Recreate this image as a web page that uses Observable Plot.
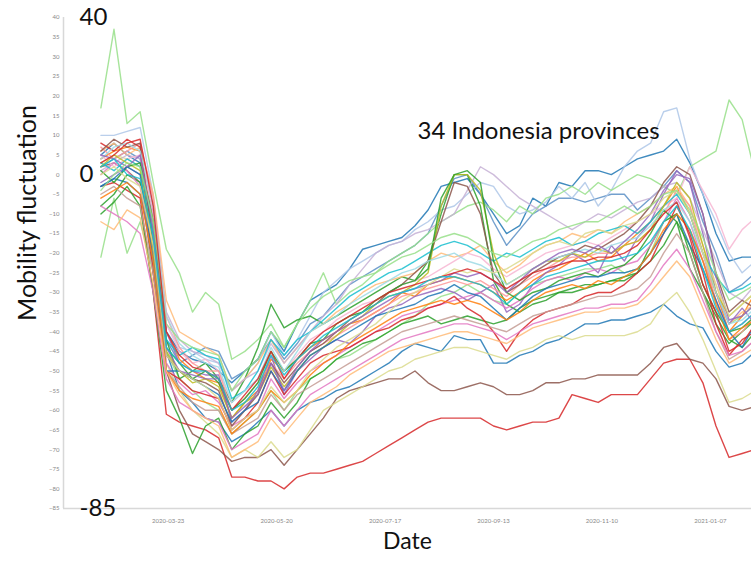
<!DOCTYPE html>
<html><head><meta charset="utf-8">
<script src="https://cdn.jsdelivr.net/npm/d3@7"></script>
<script src="https://cdn.jsdelivr.net/npm/@observablehq/plot@0.6"></script>
<style>body{margin:0;background:#fff;} #chart{width:751px;height:563px;}</style>
</head><body><div id="chart"></div>
<script>
const weeks = ["2020-02-16","2020-02-23","2020-03-01","2020-03-08","2020-03-15","2020-03-22","2020-03-29","2020-04-05","2020-04-12","2020-04-19",
"2020-04-26","2020-05-03","2020-05-10","2020-05-17","2020-05-24","2020-05-31","2020-06-07","2020-06-14","2020-06-21","2020-06-28",
"2020-07-05","2020-07-12","2020-07-19","2020-07-26","2020-08-02","2020-08-09","2020-08-16","2020-08-23","2020-08-30","2020-09-06",
"2020-09-13","2020-09-20","2020-09-27","2020-10-04","2020-10-11","2020-10-18","2020-10-25","2020-11-01","2020-11-08","2020-11-15",
"2020-11-22","2020-11-29","2020-12-06","2020-12-13","2020-12-20","2020-12-27","2021-01-03","2021-01-10","2021-01-17","2021-01-24",
"2021-01-31"];
const xTickLabels = ["2020-03-23","2020-05-20","2020-07-17","2020-09-13","2020-11-10","2021-01-07"];
const yTickLabels = [40,35,30,25,20,15,10,5,0,-5,-10,-15,-20,-25,-30,-35,-40,-45,-50,-55,-60,-65,-70,-75,-80,-85];
const bigYLabels = [40,0,-85];
const xDomain = ["2020-01-27","2021-01-29"];
const yDomain = [-85,40];
const chartTitle = "34 Indonesia provinces";
const xTitle = "Date";
const yTitle = "Mobility fluctuation";

const p01 = [-3,-2,-4,-6,-30,-61,-63,-64,-65,-67, -77,-77,-78,-78,-80,-77,-76,-76,-75,-74, -73,-71,-69,-67,-65,-63,-62,-62,-62,-62, -64,-65,-64,-63,-63,-62,-56,-57,-58,-56, -56,-56,-52,-48,-47,-47,-53,-64,-72,-71, -70];
const p02 = [2,3,1,-2,-25,-50,-60,-66,-68,-70, -73,-72,-72,-70,-74,-70,-66,-62,-57,-55, -54,-53,-52,-52,-50,-53,-55,-55,-54,-53, -54,-56,-56,-55,-53,-53,-52,-52,-51,-51, -51,-51,-48,-44,-43,-47,-48,-52,-59,-60, -59];
const p03 = [-3,-1,-2,-5,-20,-45,-55,-58,-62,-63, -68,-66,-63,-60,-64,-60,-58,-57,-55,-54, -52,-50,-48,-45,-43,-44,-45,-41,-42,-42, -48,-48,-46,-45,-43,-42,-40,-38,-38,-37, -37,-36,-35,-33,-36,-38,-39,-45,-49,-48, -45];
const p04 = [5,8,5,3,-10,-40,-45,-47,-48,-50, -53,-50,-47,-40,-45,-38,-32,-30,-28,-24, -19,-18,-17,-16,-13,-9,-3,-2,-1,-5, -10,-15,-13,-6,-8,-2,-3,1,1,0, 2,4,5,6,9,3,-5,-15,-22,-21, -21];
const p05 = [2,4,6,4,-15,-42,-48,-46,-44,-45, -52,-50,-47,-42,-47,-43,-38,-36,-32,-28, -26,-24,-22,-20,-18,-15,-8,-1,0,-5, -12,-18,-14,-10,-8,-6,-6,-7,-6,-5, -5,-9,-6,-3,1,-2,-12,-20,-30,-28, -25];
const p06 = [10,10,11,12,-5,-38,-44,-45,-47,-48, -55,-52,-48,-40,-46,-42,-36,-30,-27,-24, -22,-20,-18,-17,-14,-12,-9,-8,-5,-2, -3,-8,-10,-9,-7,-3,-6,-2,-8,-4, 2,6,8,16,17,4,-5,-12,-20,-25, -22];
const p07 = [17,37,13,16,-2,-19,-25,-35,-30,-33, -47,-45,-42,-38,-44,-38,-32,-25,-33,-30, -28,-25,-22,-20,-18,-15,-12,-10,-8,-7, -9,-12,-8,-10,-6,-5,-3,-5,-2,-4, -2,0,-1,-3,-5,2,4,6,19,14, 0];
const p08 = [-21,-6,-20,-12,-25,-45,-52,-55,-58,-60, -66,-63,-60,-55,-60,-55,-52,-50,-47,-46, -44,-42,-40,-38,-36,-33,-31,-30,-28,-30, -32,-33,-30,-28,-27,-26,-25,-24,-24,-23, -25,-24,-20,-12,-10,-14,-22,-30,-38,-36, -33];
const p09 = [3,5,4,2,-18,-48,-55,-60,-63,-66, -72,-70,-72,-68,-72,-70,-65,-60,-58,-56, -54,-52,-50,-49,-47,-46,-45,-44,-44,-45, -46,-47,-45,-44,-42,-41,-42,-41,-41,-41, -41,-40,-38,-33,-30,-35,-42,-50,-58,-57, -55];
const p10 = [-8,-5,0,-2,-15,-42,-52,-50,-48,-52, -58,-52,-44,-33,-39,-37,-36,-38,-36,-34, -32,-30,-28,-26,-27,-22,-10,0,0,-8, -27,-33,-35,-33,-32,-30,-29,-28,-28,-27, -27,-25,-18,-12,-10,-20,-30,-38,-43,-40, -37];
const p11 = [-10,-7,-3,-8,-30,-55,-62,-71,-64,-62, -70,-66,-64,-58,-62,-58,-52,-50,-47,-45, -43,-42,-40,-38,-37,-36,-38,-37,-36,-37, -38,-37,-34,-32,-31,-30,-30,-29,-28,-27, -26,-25,-22,-18,-12,-24,-30,-36,-42,-44, -40];
const p12 = [4,6,7,6,-12,-40,-47,-50,-52,-53, -62,-58,-55,-47,-50,-47,-44,-42,-40,-38, -37,-35,-33,-30,-31,-28,-27,-26,-27,-28, -30,-32,-30,-27,-25,-24,-22,-20,-22,-21, -18,-15,-12,-8,-3,-10,-20,-30,-40,-36, -30];
const p13 = [6,8,5,7,-5,-32,-40,-42,-44,-46, -55,-52,-48,-42,-48,-44,-40,-38,-35,-33, -30,-28,-27,-26,-25,-22,-20,-21,-20,-18, -22,-25,-23,-20,-18,-17,-15,-16,-14,-15, -12,-10,-8,-5,-3,-8,-18,-28,-38,-35, -33];
const p14 = [-2,0,2,0,-10,-40,-48,-50,-51,-51, -63,-60,-55,-46,-56,-50,-47,-44,-42,-43, -40,-36,-34,-33,-31,-30,-29,-30,-32,-30, -28,-35,-33,-28,-25,-23,-20,-22,-25,-18, -22,-16,-12,-5,1,-2,-15,-30,-38,-34, -38];
const p15 = [1,3,5,4,-8,-35,-42,-45,-46,-48, -55,-52,-50,-43,-48,-44,-40,-36,-33,-28, -24,-20,-18,-17,-15,-14,-12,-10,-4,2, 0,-3,-6,-8,-10,-12,-14,-12,-10,-11, -9,-7,-6,-3,-2,-6,-14,-22,-30,-32, -28];
const p16 = [0,3,1,-3,-20,-48,-53,-56,-55,-58, -64,-62,-60,-52,-57,-53,-50,-48,-46,-44, -42,-40,-38,-36,-35,-34,-33,-32,-31,-30, -32,-34,-32,-29,-27,-26,-27,-25,-24,-25, -23,-22,-18,-12,-6,-12,-22,-32,-40,-38, -35];
const p17 = [5,2,4,5,-10,-38,-45,-48,-47,-50, -58,-55,-52,-46,-50,-46,-42,-40,-37,-35, -33,-32,-30,-28,-27,-26,-24,-22,-20,-21, -24,-26,-24,-22,-20,-19,-18,-17,-18,-16, -14,-12,-10,-8,-6,2,-4,-10,-19,-14, -11];
const p18 = [7,4,6,8,-6,-36,-44,-48,-50,-50, -60,-57,-53,-48,-52,-48,-45,-43,-41,-39, -37,-35,-33,-31,-30,-29,-28,-27,-28,-27, -29,-31,-28,-26,-24,-22,-21,-21,-20,-20, -18,-17,-14,-10,-4,-8,-20,-32,-42,-40, -36];
const p19 = [8,6,9,7,-25,-50,-52,-55,-56,-57, -65,-62,-58,-50,-56,-52,-48,-46,-45,-44, -42,-40,-39,-37,-36,-34,-33,-31,-34,-36, -40,-45,-40,-37,-35,-34,-33,-31,-30,-30, -28,-25,-22,-15,-8,-15,-25,-38,-46,-42, -40];
const p20 = [3,1,4,2,-15,-42,-46,-44,-46,-47, -57,-55,-50,-42,-46,-42,-40,-37,-34,-31, -29,-27,-25,-24,-22,-20,-18,-17,-18,-20, -22,-20,-21,-19,-17,-16,-18,-17,-15,-14, -13,-15,-12,-8,-5,-10,-20,-26,-30,-29, -27];
const p21 = [2,5,3,1,-20,-45,-50,-53,-52,-54, -62,-58,-56,-49,-54,-50,-46,-44,-41,-38, -36,-33,-31,-30,-28,-25,-8,0,0,-4, -20,-28,-26,-24,-22,-22,-20,-21,-19,-20, -18,-17,-14,-8,-2,-6,-18,-30,-36,-33, -30];
const p22 = [-5,-3,-6,-8,-25,-50,-54,-58,-60,-60, -66,-64,-62,-56,-60,-56,-54,-52,-50,-48, -46,-44,-42,-40,-39,-38,-37,-36,-37,-38, -39,-40,-38,-36,-35,-34,-33,-32,-31,-31, -30,-29,-26,-20,-15,-20,-30,-40,-47,-45, -42];
const p23 = [6,9,7,8,-18,-46,-50,-52,-53,-55, -64,-60,-56,-48,-53,-49,-45,-43,-40,-37, -35,-33,-30,-28,-25,-22,-12,-2,-3,-10, -25,-30,-28,-25,-23,-21,-20,-18,-19,-17, -15,-12,-8,-2,2,0,-10,-25,-35,-32, -34];
const p24 = [1,-2,2,3,-12,-44,-48,-52,-50,-53, -60,-57,-53,-45,-50,-47,-43,-42,-38,-36, -35,-32,-30,-28,-27,-24,-6,0,1,-2, -22,-30,-32,-30,-29,-27,-26,-25,-26,-24, -23,-20,-15,-9,-12,-18,-28,-35,-40,-39, -36];
const p25 = [-3,-1,2,0,-22,-50,-50,-52,-54,-56, -63,-60,-58,-50,-55,-50,-46,-44,-42,-40, -38,-36,-35,-34,-33,-31,-30,-28,-30,-31, -34,-37,-34,-31,-29,-28,-27,-26,-26,-25, -25,-24,-20,-15,-10,-18,-24,-32,-40,-44, -38];
const p26 = [4,7,8,6,-8,-36,-43,-46,-48,-49, -58,-55,-52,-44,-50,-45,-40,-38,-36,-33, -31,-29,-27,-25,-24,-22,-21,-20,-22,-23, -25,-28,-26,-24,-22,-21,-20,-19,-20,-18, -17,-16,-13,-9,-7,-12,-20,-30,-38,-37, -34];
const p27 = [5,4,2,5,-14,-44,-50,-51,-52,-52, -62,-59,-56,-48,-55,-49,-45,-42,-40,-38, -36,-34,-32,-30,-29,-28,-27,-25,-26,-25, -27,-30,-27,-24,-22,-20,-19,-20,-18,-20, -17,-14,-10,-4,0,-1,-10,-26,-37,-36, -33];
const p28 = [-6,-4,-2,-5,-22,-50,-55,-57,-58,-59, -66,-63,-60,-55,-58,-55,-51,-48,-46,-43, -41,-39,-37,-35,-34,-33,-32,-33,-32,-33, -35,-37,-35,-32,-30,-29,-28,-29,-27,-28, -26,-24,-20,-14,-10,-14,-22,-33,-42,-39, -37];
const p29 = [0,2,-1,-3,-18,-46,-50,-52,-54,-57, -65,-62,-60,-54,-58,-55,-50,-47,-44,-42, -40,-38,-35,-32,-30,-28,-26,-24,-25,-24, -25,-24,-22,-20,-18,-17,-18,-15,-14,-15, -13,-12,-10,-6,-4,-10,-20,-28,-36,-33, -30];
const p30 = [-4,0,3,2,-12,-38,-42,-44,-45,-46, -55,-50,-47,-40,-44,-38,-34,-31,-29,-27, -26,-25,-23,-21,-20,-18,-16,-15,-16,-18, -20,-21,-19,-17,-16,-14,-13,-12,-12,-10, -8,-10,-8,-5,-4,-9,-16,-25,-32,-30, -28];
const p31 = [3,5,8,9,-8,-40,-46,-49,-50,-52, -60,-56,-52,-45,-52,-47,-43,-40,-38,-36, -34,-32,-30,-29,-28,-27,-26,-25,-24,-25, -27,-29,-27,-25,-24,-23,-22,-22,-21,-21, -20,-18,-14,-10,-7,-16,-28,-35,-45,-43, -38];
const p32 = [-8,-10,-12,-15,-30,-52,-58,-60,-62,-63, -70,-68,-66,-60,-64,-60,-56,-54,-52,-50, -48,-46,-44,-42,-41,-40,-39,-38,-38,-39, -40,-42,-40,-38,-37,-36,-35,-34,-34,-33, -33,-32,-28,-23,-19,-24,-32,-40,-46,-45, -42];
const p33 = [-12,-14,-9,-11,-28,-50,-56,-60,-62,-64, -72,-70,-68,-62,-66,-62,-58,-56,-54,-51, -49,-47,-45,-44,-43,-42,-41,-40,-40,-41, -42,-43,-41,-39,-38,-37,-36,-35,-35,-34, -34,-33,-30,-26,-22,-26,-34,-42,-48,-46, -44];
const p34 = [2,4,0,-1,-16,-44,-48,-50,-50,-52, -60,-58,-54,-46,-51,-47,-44,-41,-39,-37, -35,-33,-31,-30,-29,-27,-26,-26,-27,-28, -30,-33,-30,-28,-26,-25,-24,-23,-22,-22, -21,-20,-17,-12,-8,-14,-24,-34,-40,-38, -35];

const provinceSeries = [p01,p02,p03,p04,p05,p06,p07,p08,p09,p10,p11,p12,p13,p14,p15,p16,p17,p18,p19,p20,p21,p22,p23,p24,p25,p26,p27,p28,p29,p30,p31,p32,p33,p34];
const seriesColors = ["#d62728","#8c564b","#1f77b4","#1f77b4","#5a8fc6","#aec7e8","#98df8a","#98df8a","#dbdb8d","#2ca02c","#2ca02c","#ff7f0e","#ffbb78","#9467bd","#c5b0d5","#e377c2","#f7b6d2","#ff9896","#d62728","#17becf","#bcbd22","#c49c94","#8c564b","#2ca02c","#1f77b4","#9edae5","#9467bd","#ff7f0e","#dbdb8d","#98df8a","#d62728","#e377c2","#ffbb78","#17becf"];

const parse = d3.utcParse("%Y-%m-%d");
const rows = [];
provinceSeries.forEach((vals, k) => {
  vals.forEach((v, i) => rows.push({province: "P" + (k + 1), color: seriesColors[k], date: parse(weeks[i]), value: v}));
});
const xd = xDomain.map(parse);

const chart = Plot.plot({
  width: 751, height: 563,
  marginLeft: 63, marginRight: 0, marginTop: 17, marginBottom: 55,
  style: {fontFamily: "Lato, 'Liberation Sans', sans-serif", background: "#fff"},
  x: {type: "utc", domain: xd, label: null},
  y: {domain: yDomain, label: null},
  color: {type: "identity"},
  marks: [
    Plot.ruleX([xd[0]], {stroke: "#d8d8d8", strokeWidth: 1.5}),
    Plot.ruleY([yDomain[0]], {stroke: "#d8d8d8", strokeWidth: 1.5}),
    Plot.axisY(yTickLabels, {anchor: "left", tickSize: 0, tickPadding: 4, fontSize: 6, fill: "#888", stroke: null, label: null}),
    Plot.axisX(xTickLabels.map(parse), {anchor: "bottom", tickSize: 0, tickPadding: 10, fontSize: 6, fill: "#888", tickFormat: d3.utcFormat("%Y-%m-%d"), label: null}),
    Plot.lineY(rows, {x: "date", y: "value", z: "province", stroke: "color", strokeWidth: 1.4, strokeOpacity: 0.85, clip: true}),
    Plot.text(bigYLabels, {y: d => d, text: d => String(d), frameAnchor: "left", dx: 16, textAnchor: "start", fontSize: 24, fill: "#111"}),
    Plot.text([chartTitle], {frameAnchor: "top-left", dx: 354, dy: 104, textAnchor: "start", fontSize: 24, fill: "#111"}),
    Plot.text([xTitle], {frameAnchor: "bottom", dy: 40, fontSize: 23, fill: "#111"})
  ]
});
d3.select(chart).append("text")
  .attr("transform", "translate(26,213) rotate(-90)")
  .attr("text-anchor", "middle")
  .attr("dominant-baseline", "central")
  .attr("font-size", 25)
  .attr("font-family", "Lato, 'Liberation Sans', sans-serif")
  .attr("fill", "#111")
  .text(yTitle);
document.getElementById("chart").appendChild(chart);
</script>
</body></html>
